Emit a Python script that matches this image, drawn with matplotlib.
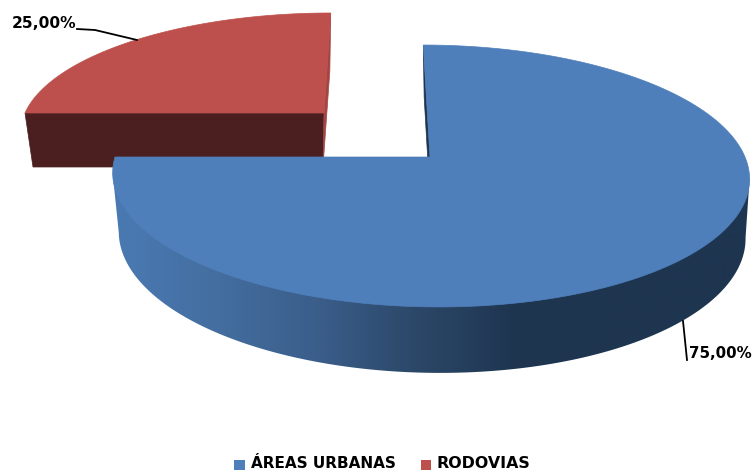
import numpy as np
import matplotlib
matplotlib.use('Agg')
import matplotlib.pyplot as plt
from matplotlib.colors import LinearSegmentedColormap, Normalize
from matplotlib.patches import Polygon

# 1. DATA
categories = ['ÁREAS URBANAS', 'RODOVIAS']
values = [75.0, 25.0]
value_labels = ['75,00%', '25,00%']

# 2. STYLE
blue = '#4f7fbb'
red = '#bd504d'
dark_red = '#4b1f1f'
red_edge = '#a54543'
dark_blue = '#1e3550'
side_cmap = LinearSegmentedColormap.from_list(
    'side', ['#4a79b2', '#436e9f', '#3b5e8b', '#2c4869', '#1f3651', '#1e3550'])
vanish_x = 377
k = 0.145

plt.rcParams['font.family'] = ['DejaVu Sans']
fig = plt.figure(figsize=(7.53, 4.72), dpi=100, facecolor='white')
ax = fig.add_axes([0, 0, 1, 1])
ax.axis('off')


# maps a point of the round pie to the picture, with the tilt of the 3D view
def project(x, y, cx, cy, rx, ry):
    w = 1 + k * y
    return vanish_x + (rx * x + cx - vanish_x) / w, cy - ry * y / w


def arc(theta, disc):
    return project(np.cos(theta), np.sin(theta), *disc)


# 3. ANGLES FROM THE VALUES (clockwise from the top)
fracs = np.array(values) / sum(values)
blue_theta = np.linspace(np.pi / 2, np.pi / 2 - 2 * np.pi * fracs[0], 300)
red_theta = np.linspace(blue_theta[-1], blue_theta[-1] - 2 * np.pi * fracs[1], 100)

# top and bottom disc of each slice: cx, cy, rx, ry
blue_top = (430, 157, 315, 128.2)
blue_bot = (431, 215, 310, 135)
red_top = (324, 113, 299, 114.5)
red_bot = (323, 167, 290, 110)

# 4. RED SLICE (it sits behind the blue one)
tx, ty = arc(red_theta, red_top)
bx, by = arc(red_theta, red_bot)
ax.fill([tx[0], 324, 323, bx[0]], [ty[0], 113, 167, by[0]], color=dark_red, lw=0.5, zorder=1)
ax.fill([tx[-1], bx[-1], 323, 324], [ty[-1], by[-1], 167, 113], color=red_edge, lw=0.5, zorder=1)
ax.fill(np.r_[324, tx], np.r_[113, ty], color=red, lw=0.5, zorder=2)

# 5. BLUE SLICE
tx, ty = arc(blue_theta, blue_top)
bx, by = arc(blue_theta, blue_bot)
ax.fill([tx[0], bx[0], 431, 430], [ty[0], by[0], 215, 157], color=dark_blue, lw=0.5, zorder=3)

# side wall: gradient image clipped to the outline of the front of the slice
front = blue_theta <= 0
fx, fy = tx[front], ty[front]
gx, gy = bx[front], by[front]
r_top, l_top = np.argmax(fx), np.argmin(fx)
r_bot, l_bot = np.argmax(gx), np.argmin(gx)
outline_x = np.r_[fx[r_top], gx[r_bot:l_bot + 1], fx[l_top]]
outline_y = np.r_[fy[r_top], gy[r_bot:l_bot + 1], fy[l_top]]
side = Polygon(np.c_[outline_x, outline_y], closed=True, transform=ax.transData, fc='none', ec='none')
ax.add_patch(side)
shade = np.linspace(0, 753, 754).reshape(1, -1)
im = ax.imshow(shade, cmap=side_cmap, norm=Normalize(120, 610), extent=(0, 753, 472, 0),
               aspect='auto', zorder=4)
im.set_clip_path(side)
ax.fill(np.r_[430, tx], np.r_[157, ty], color=blue, lw=0.5, zorder=5)

# 6. VALUE LABELS AND LEADER LINES
ax.plot([683, 687], [321, 360], color='black', lw=1.3, zorder=6)
ax.plot([77, 95, 137], [29, 30, 40], color='black', lw=1.3, zorder=6)
ax.text(689, 354, value_labels[0], fontsize=10.8, fontweight='bold', va='center', ha='left')
ax.text(12, 24, value_labels[1], fontsize=11.2, fontweight='bold', va='center', ha='left')

# 7. LEGEND
ax.fill([234, 245, 245, 234], [460, 460, 470, 470], color=blue, lw=0)
ax.fill([421, 431, 431, 421], [460, 460, 470, 470], color=red, lw=0)
ax.text(251, 464, categories[0], fontsize=11, fontweight='bold', va='center', ha='left')
ax.text(437, 464, categories[1], fontsize=11.4, fontweight='bold', va='center', ha='left')

ax.set_xlim(0, 753)
ax.set_ylim(472, 0)
plt.savefig('out.png', dpi=100, facecolor='white')
